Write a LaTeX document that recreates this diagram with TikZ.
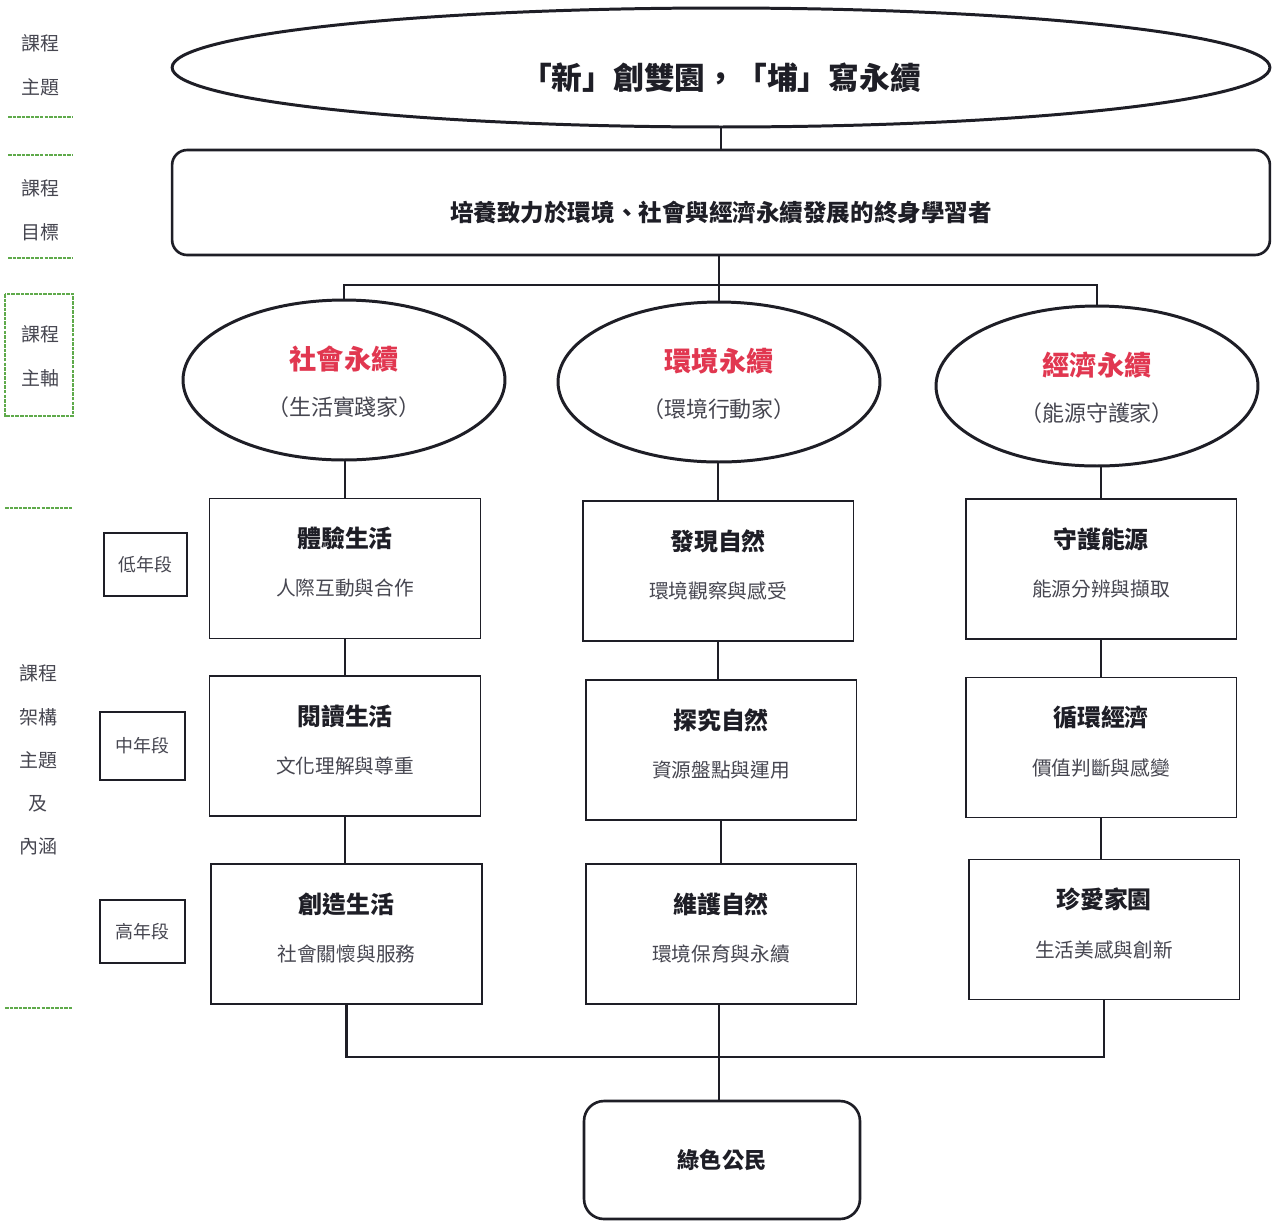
\documentclass[tikz,border=0pt]{standalone}
\usepackage{fontspec}
\setmainfont{Noto Sans CJK TC}
\usetikzlibrary{shapes.geometric}
\definecolor{sred}{RGB}{225,55,80}
\definecolor{lgreen}{RGB}{95,170,75}
\definecolor{ink}{RGB}{30,30,38}
\definecolor{softink}{RGB}{70,70,80}
\newcommand\gridbox[5]{% name, x, y, title, sub
  \node[gbox] (#1) at (#2,#3) {};
  \node[gttl] (#1t) at ([yshift=0.6cm]#1.center) {#4};
  \node[gsub] (#1s) at ([yshift=-0.4cm]#1.center) {#5};}
\newcommand\axisell[5]{% name, x, y, red, sub
  \node[ell, minimum width=6.44cm, minimum height=3.2cm] (#1) at (#2,#3) {};
  \node[redt] (#1t) at ([yshift=0.42cm]#1.center) {#4};
  \node[esub] (#1s) at ([yshift=-0.55cm]#1.center) {#5};}
\begin{document}
\begin{tikzpicture}[x=0.02cm,y=-0.02cm,
  ell/.style={ellipse,draw=ink,line width=1.7pt,inner sep=0pt},
  gbox/.style={rectangle,draw=ink,line width=1.1pt,minimum width=5.42cm,minimum height=2.8cm,inner sep=0pt},
  gttl/.style={text=ink,font=\fontsize{13.6}{16}\selectfont\bfseries},
  gsub/.style={text=softink,font=\fontsize{11.2}{14}\selectfont},
  redt/.style={text=sred,font=\fontsize{15.5}{18}\selectfont\bfseries},
  esub/.style={text=softink,font=\fontsize{12.5}{15}\selectfont},
  conn/.style={draw=ink,line width=1.3pt},
  gline/.style={draw=lgreen,line width=0.8pt,dash pattern=on 2pt off 0.6pt},
  lbl/.style={text=softink,align=center,font=\fontsize{10.8}{25}\selectfont},
  lvl/.style={rectangle,draw=ink,line width=0.9pt,inner sep=0pt,text=softink,font=\fontsize{10.2}{12}\selectfont},
]
\useasboundingbox (0,0) rectangle (1273,1221);
\fill[white] (0,0) rectangle (1273,1221);

% left column
\node[lbl] (L1) at (40,65) {課程\\主題};
\node[lbl] (L2) at (40,210) {課程\\目標};
\node[lbl] (L3) at (40,356) {課程\\主軸};
\node[lbl,font=\fontsize{10.8}{24.6}\selectfont] (L4) at (38,760) {課程\\架構\\主題\\及\\內涵};
\draw[gline] (8,117) -- (73,117);
\draw[gline] (8,155) -- (73,155);
\draw[gline] (8,258) -- (73,258);
\draw[gline] (5,294) rectangle (73,416);
\draw[gline] (5,508) -- (73,508);
\draw[gline] (5,1008) -- (73,1008);

\node[lvl,minimum width=1.66cm,minimum height=1.26cm] (low) at (145.5,564.5) {低年段};
\node[lvl,minimum width=1.7cm,minimum height=1.36cm] (mid) at (142.5,746) {中年段};
\node[lvl,minimum width=1.7cm,minimum height=1.26cm] (high) at (142.5,931.5) {高年段};

% title ellipse and goal
\node[ell,minimum width=21.96cm,minimum height=2.38cm] (title) at (721,67.5) {};
\node[text=ink,font=\fontsize{17.5}{20}\selectfont\bfseries] (titlet) at ([yshift=-0.2cm]title.center) {「新」創雙園，「埔」寫永續};
\node[rectangle,rounded corners=0.3cm,draw=ink,line width=1.5pt,minimum width=21.96cm,minimum height=2.1cm,inner sep=0pt] (goal) at (721,202.5) {};
\node[text=ink,font=\fontsize{13.4}{16}\selectfont\bfseries] (goalt) at ([yshift=-0.2cm]goal.center) {培養致力於環境、社會與經濟永續發展的終身學習者};

% axes
\axisell{e1}{344}{380}{社會永續}{（生活實踐家）}
\axisell{e2}{719}{382}{環境永續}{（環境行動家）}
\axisell{e3}{1097}{386}{經濟永續}{（能源守護家）}

% framework boxes
\gridbox{b11}{345}{568.5}{體驗生活}{人際互動與合作}
\gridbox{b12}{718}{571}{發現自然}{環境觀察與感受}
\gridbox{b13}{1101}{569}{守護能源}{能源分辨與擷取}
\gridbox{b21}{345}{746}{閱讀生活}{文化理解與尊重}
\gridbox{b22}{721}{750}{探究自然}{資源盤點與運用}
\gridbox{b23}{1101}{747.5}{循環經濟}{價值判斷與感變}
\gridbox{b31}{346.5}{934}{創造生活}{社會關懷與服務}
\gridbox{b32}{721}{934}{維護自然}{環境保育與永續}
\gridbox{b33}{1104}{929.5}{珍愛家園}{生活美感與創新}

% citizen
\node[rectangle,rounded corners=0.4cm,draw=ink,line width=1.5pt,minimum width=5.52cm,minimum height=2.36cm,inner sep=0pt] (cit) at (722,1160) {};
\node[text=ink,font=\fontsize{12.6}{15}\selectfont\bfseries] (citt) at (cit.center) {綠色公民};

% connectors
\coordinate (jt) at (719,285);
\coordinate (jb) at (719,1057);
\draw[conn] (title.south) -- (title.south |- goal.north);
\draw[conn] (jt |- goal.south) -- (e2.north);
\draw[conn] (e1.north) |- (jt) -| (e3.north);
\draw[conn] (b11.north |- e1.south) -- (b11.north);
\draw[conn] (b12.north |- e2.south) -- (b12.north);
\draw[conn] (b13.north |- e3.south) -- (b13.north);
\draw[conn] (b11.south) -- (b11.south |- b21.north);
\draw[conn] (b12.south) -- (b12.south |- b22.north);
\draw[conn] (b13.south) -- (b13.south |- b23.north);
\draw[conn] (b21.south) -- (b21.south |- b31.north);
\draw[conn] (b22.south) -- (b22.south |- b32.north);
\draw[conn] (b23.south) -- (b23.south |- b33.north);
\draw[conn] (b31.south) |- (jb) -| (b33.south);
\draw[conn] (jb |- b32.south) -- (jb |- cit.north);
\end{tikzpicture}
\end{document}
